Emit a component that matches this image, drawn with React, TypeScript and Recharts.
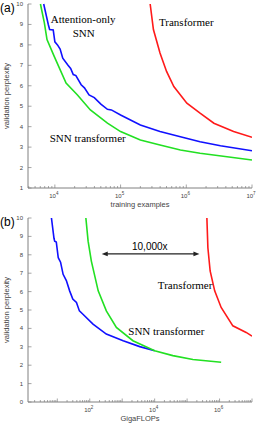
import { LineChart, Line, XAxis, YAxis, ReferenceDot, ReferenceLine } from 'recharts';

// axis ticks
const examplesLabels = [1e4, 1e5, 1e6, 1e7];
const flopsLabels = [1e2, 1e4, 1e6];
const examplesDomain = [3900, 1e7];
const flopsDomain = [1.25, 1e7];
const pplTicksA = [1, 2, 3, 4, 5, 6, 7, 8, 9, 10];
const pplTicksB = [0, 1, 2, 3, 4, 5, 6, 7, 8, 9, 10];

// (a) validation perplexity vs training examples
const attnExamples = [6760, 7940, 8320, 9440, 10000, 10960, 12020, 13180, 15850, 17380, 19050, 20890, 25120, 28180, 33110, 39810, 50120, 63100, 72440, 1e5, 2e5, 3.98e5, 8.13e5, 1.62e6, 3.31e6, 1e7];
const attnPplA = [10, 9.0, 8.75, 8.73, 8.15, 8.0, 7.8, 7.35, 7.0, 6.85, 6.55, 6.5, 6.05, 5.9, 5.55, 5.42, 5.1, 4.85, 4.82, 4.57, 4.08, 3.76, 3.51, 3.26, 3.07, 2.82];
const snnExamples = [6030, 6920, 7590, 9770, 14800, 21900, 34700, 63100, 1e5, 2e5, 3.98e5, 8.13e5, 1.62e6, 4.17e6, 1e7];
const snnPplA = [10, 9.08, 8.26, 7.44, 6.13, 5.56, 4.82, 4.17, 3.76, 3.35, 3.1, 2.86, 2.7, 2.53, 2.37];
const tfExamples = [2.82e5, 3.16e5, 3.98e5, 5.01e5, 6.46e5, 1.02e6, 1.62e6, 2.63e6, 5.25e6, 1e7];
const tfPplA = [10, 8.75, 7.6, 6.7, 5.96, 5.15, 4.66, 4.17, 3.76, 3.48];

// (b) validation perplexity vs GigaFLOPs
const attnFlops = [6.6, 7.9, 8.3, 9.3, 10.7, 12.6, 15.1, 19, 24, 30, 38.9, 48, 61.7, 126, 324, 1070, 3470, 10000];
const attnPplB = [10, 8.9, 8.74, 8.7, 7.84, 7.6, 6.94, 6.6, 6.04, 5.6, 5.41, 4.95, 4.77, 4.23, 3.69, 3.33, 3.01, 2.79];
const snnFlops = [75.9, 89, 112, 182, 324, 661, 2140, 10000, 36300, 151000, 1.12e6];
const snnPplB = [10, 8.74, 7.66, 6.04, 4.95, 4.05, 3.33, 2.79, 2.52, 2.31, 2.16];
const tfFlops = [4.07e5, 4.37e5, 5.13e5, 7.08e5, 1.12e6, 2.57e6, 6.61e6, 1e7];
const tfPplB = [10, 8.38, 7.12, 6.04, 5.14, 4.14, 3.78, 3.58];

const BLUE = '#1010ff';
const GREEN = '#22e022';
const RED = '#ff1a1a';
const AXIS = '#808080';
const SERIF = '"Liberation Serif", "DejaVu Serif", serif';
const SANS = '"Liberation Sans", Arial, sans-serif';

const zip = (xs: number[], ys: number[]) => xs.map((x, i) => ({ x, y: ys[i] }));

function logTicks(domain: number[]) {
  const out: number[] = [];
  for (let d = Math.floor(Math.log10(domain[0])); d <= Math.ceil(Math.log10(domain[1])); d++) {
    for (let k = 1; k <= 9; k++) {
      const v = k * Math.pow(10, d);
      if (v >= domain[0] && v <= domain[1] * 1.0001) out.push(v);
    }
  }
  return out;
}

const isDecade = (v: number) => Math.abs(Math.log10(v) - Math.round(Math.log10(v))) < 1e-6;

const bottomTick = (labels: number[]) => (props: any) => {
  const { x, y, payload } = props;
  const v = payload.value;
  const major = isDecade(v);
  const showLabel = labels.some((l) => Math.abs(l - v) / l < 1e-6);
  return (
    <g>
      <line x1={x} x2={x} y1={y} y2={y - (major ? 3.5 : 2)} stroke={AXIS} strokeWidth={0.7} />
      {showLabel && (
        <text x={x - 1} y={y + 10} textAnchor="middle" fontSize={6} fill="#444" fontFamily={SANS}>
          10
          <tspan dy={-3} fontSize={4.5}>{Math.round(Math.log10(v))}</tspan>
        </text>
      )}
    </g>
  );
};

const topTick = (props: any) => {
  const { x, y, payload } = props;
  const major = isDecade(payload.value);
  return <line x1={x} x2={x} y1={y} y2={y + (major ? 3.5 : 2)} stroke={AXIS} strokeWidth={0.7} />;
};

const leftTick = (props: any) => {
  const { x, y, payload } = props;
  return (
    <g>
      <line x1={x} x2={x + 3.5} y1={y} y2={y} stroke={AXIS} strokeWidth={0.7} />
      <text x={x - 5} y={y} textAnchor="end" dominantBaseline="central" fontSize={6} fill="#444" fontFamily={SANS}>
        {payload.value}
      </text>
    </g>
  );
};

const rightTick = (props: any) => {
  const { x, y } = props;
  return <line x1={x} x2={x - 3.5} y1={y} y2={y} stroke={AXIS} strokeWidth={0.7} />;
};

const note = (text: string, size: number, family: string) => (props: any) => {
  const vb = props.viewBox || {};
  const cx = (vb.x ?? 0) + (vb.width ?? 0) / 2;
  const cy = (vb.y ?? 0) + (vb.height ?? 0) / 2;
  return (
    <text x={cx} y={cy} textAnchor="middle" dominantBaseline="central" fontSize={size} fontFamily={family} fill="#000">
      {text}
    </text>
  );
};

const xTitle = (text: string) => (props: any) => {
  const vb = props.viewBox || {};
  const cx = (vb.x ?? 0) + (vb.width ?? 0) / 2;
  return (
    <text x={cx} y={(vb.y ?? 0) + 19} textAnchor="middle" fontSize={7.5} fill="#444" fontFamily={SANS}>
      {text}
    </text>
  );
};

const arrowShape = (props: any) => {
  const { x1, y1, x2, y2 } = props;
  const h = 6;
  const w = 2.3;
  return (
    <g>
      <line x1={x1 + 3} y1={y1} x2={x2 - 3} y2={y2} stroke="#222" strokeWidth={1.3} />
      <polygon points={`${x1},${y1} ${x1 + h},${y1 - w} ${x1 + h},${y1 + w}`} fill="#222" />
      <polygon points={`${x2},${y2} ${x2 - h},${y2 - w} ${x2 - h},${y2 + w}`} fill="#222" />
    </g>
  );
};

interface PanelProps {
  tag: string;
  xLabel: string;
  domain: number[];
  labels: number[];
  yTicks: number[];
  series: { data: { x: number; y: number }[]; color: string }[];
  children?: any;
}

function Panel({ tag, xLabel, domain, labels, yTicks, series, children }: PanelProps) {
  const ticks = logTicks(domain);
  const yDomain = [yTicks[0], yTicks[yTicks.length - 1]];
  return (
    <div style={{ position: 'relative', width: 270, height: 214 }}>
      <LineChart width={270} height={214} margin={{ top: 4, right: 18, bottom: 0, left: 0 }}>
        <XAxis
          dataKey="x"
          type="number"
          scale="log"
          domain={domain}
          allowDataOverflow
          ticks={ticks}
          interval={0}
          height={26}
          stroke={AXIS}
          tickLine={false}
          tickSize={0}
          tickMargin={0}
          tick={bottomTick(labels)}
          label={{ content: xTitle(xLabel) }}
        />
        <XAxis
          xAxisId="top"
          orientation="top"
          dataKey="x"
          type="number"
          scale="log"
          domain={domain}
          allowDataOverflow
          ticks={ticks}
          interval={0}
          height={0}
          stroke={AXIS}
          tickLine={false}
          tickSize={0}
          tickMargin={0}
          tick={topTick}
        />
        <YAxis
          type="number"
          domain={yDomain}
          ticks={yTicks}
          interval={0}
          width={28}
          stroke={AXIS}
          tickLine={false}
          tickSize={0}
          tickMargin={0}
          tick={leftTick}
        />
        <YAxis
          yAxisId="right"
          orientation="right"
          type="number"
          domain={yDomain}
          ticks={yTicks}
          interval={0}
          width={0}
          stroke={AXIS}
          tickLine={false}
          tickSize={0}
          tickMargin={0}
          tick={rightTick}
        />
        {series.map((s, i) => (
          <Line
            key={i}
            data={s.data}
            dataKey="y"
            type="linear"
            stroke={s.color}
            strokeWidth={1.6}
            dot={false}
            isAnimationActive={false}
          />
        ))}
        {children}
      </LineChart>
      <svg width={270} height={214} style={{ position: 'absolute', left: 0, top: 0, pointerEvents: 'none' }}>
        <text x={0} y={12} fontSize={12} fontFamily={SANS} fill="#000">{tag}</text>
        <text
          x={6}
          y={96}
          transform="rotate(-90 6 96)"
          textAnchor="middle"
          dominantBaseline="central"
          fontSize={7.5}
          fill="#444"
          fontFamily={SANS}
        >
          validation perplexity
        </text>
      </svg>
    </div>
  );
}

export default function App() {
  return (
    <div style={{ position: 'absolute', left: 0, top: 0, width: 270, height: 428, background: '#fff' }}>
      <Panel
        tag="(a)"
        xLabel="training examples"
        domain={examplesDomain}
        labels={examplesLabels}
        yTicks={pplTicksA}
        series={[
          { data: zip(snnExamples, snnPplA), color: GREEN },
          { data: zip(attnExamples, attnPplA), color: BLUE },
          { data: zip(tfExamples, tfPplA), color: RED },
        ]}
      >
        <ReferenceDot x={26900} y={9.29} r={0} fill="none" stroke="none" label={note('Attention-only', 11, SERIF)} />
        <ReferenceDot x={27500} y={8.6} r={0} fill="none" stroke="none" label={note('SNN', 11, SERIF)} />
        <ReferenceDot x={1e6} y={9.14} r={0} fill="none" stroke="none" label={note('Transformer', 11, SERIF)} />
        <ReferenceDot x={31600} y={3.45} r={0} fill="none" stroke="none" label={note('SNN transformer', 11, SERIF)} />
      </Panel>
      <Panel
        tag="(b)"
        xLabel="GigaFLOPs"
        domain={flopsDomain}
        labels={flopsLabels}
        yTicks={pplTicksB}
        series={[
          { data: zip(attnFlops, attnPplB), color: BLUE },
          { data: zip(snnFlops, snnPplB), color: GREEN },
          { data: zip(tfFlops, tfPplB), color: RED },
        ]}
      >
        <ReferenceLine
          segment={[
            { x: 234, y: 8.05 },
            { x: 240000, y: 8.05 },
          ]}
          shape={arrowShape}
        />
        <ReferenceDot x={7080} y={8.47} r={0} fill="none" stroke="none" label={note('10,000x', 10, SANS)} />
        <ReferenceDot x={87000} y={6.36} r={0} fill="none" stroke="none" label={note('Transformer', 11, SERIF)} />
        <ReferenceDot x={22900} y={3.87} r={0} fill="none" stroke="none" label={note('SNN transformer', 11, SERIF)} />
      </Panel>
    </div>
  );
}
